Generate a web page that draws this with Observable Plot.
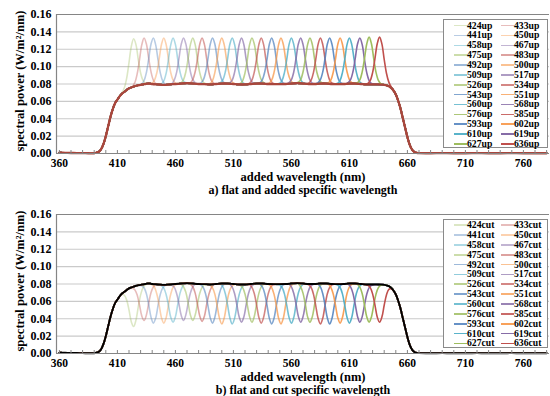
<!DOCTYPE html>
<html><head><meta charset="utf-8">
<script src="https://cdn.jsdelivr.net/npm/d3@7"></script>
<script src="https://cdn.jsdelivr.net/npm/@observablehq/plot@0.6"></script>
<style>
body{margin:0;background:#fff;}
#root{position:relative;width:550px;height:396px;overflow:hidden;font-family:"Liberation Serif","Times New Roman",serif;font-weight:bold;}
.panel{position:absolute;left:0;width:550px;height:198px;}
.legend{position:absolute;left:442.5px;top:19px;width:105px;height:129px;box-sizing:border-box;border:1px solid #8a8a8a;background:#fff;}
.it{position:absolute;height:10px;width:48px;}
.ln{position:absolute;left:0;top:4.2px;width:13px;height:1.7px;}
.tx{position:absolute;left:13.5px;top:0;font-size:9.7px;line-height:10px;white-space:nowrap;color:#000;}
</style>
</head><body>
<div id="root"></div>
<script>
// ---- data ----
const waves = [424,433,441,450,458,467,475,483,492,500,509,517,526,534,543,551,560,568,576,585,593,602,610,619,627,636];
// panel a: peak value of each "up" curve
const peakA = [0.132,0.133,0.133,0.133,0.133,0.133,0.133,0.133,0.133,0.133,0.133,0.133,0.133,0.133,0.133,0.133,0.133,0.133,0.133,0.133,0.133,0.133,0.133,0.133,0.134,0.134];
// panel b: minimum value of each "cut" curve
const dipB = [0.031,0.038,0.035,0.035,0.036,0.038,0.038,0.037,0.035,0.034,0.034,0.036,0.036,0.035,0.034,0.034,0.035,0.036,0.036,0.034,0.034,0.035,0.035,0.036,0.036,0.036];
// flat spectrum (wavelength nm, W/m²/nm)
const flatX = [
  360,365,370,375,380,385,390,
  392,394,396,398,400,402,404,406,408,410,412,414,416,418,420,422,424,426,428,430,432,434,436,438,440,
  445,450,455,460,465,470,475,480,485,490,495,500,505,510,515,520,525,530,535,540,545,550,555,560,565,570,575,580,585,590,595,600,605,610,615,620,625,630,635,
  638,640,642,644,646,648,650,652,654,656,658,660,662,664,666,668,670,
  680,690,700,710,720,730,740,750,760,770,780];
const flatY = [
  0.0010,0.0008,0.0006,0.0005,0.0004,0.0003,0.0003,
  0.0010,0.0020,0.0050,0.0110,0.0200,0.0310,0.0420,0.0510,0.0580,0.0620,0.0660,0.0690,0.0710,0.0730,0.0750,0.0760,0.0770,0.0780,0.0785,0.0790,0.0795,0.0800,0.0805,0.0805,0.0800,
  0.0795,0.0790,0.0795,0.0800,0.0805,0.0810,0.0805,0.0800,0.0798,0.0795,0.0800,0.0805,0.0805,0.0800,0.0795,0.0795,0.0800,0.0805,0.0805,0.0800,0.0798,0.0798,0.0800,0.0805,0.0810,0.0805,0.0800,0.0800,0.0805,0.0805,0.0800,0.0798,0.0800,0.0805,0.0805,0.0800,0.0795,0.0795,0.0795,
  0.0793,0.0790,0.0785,0.0775,0.0755,0.0725,0.0680,0.0610,0.0520,0.0410,0.0300,0.0190,0.0100,0.0045,0.0018,0.0007,0.0004,
  0.0003,0.0004,0.0003,0.0003,0.0004,0.0003,0.0003,0.0004,0.0003,0.0003,0.0003];
// shape of one added / cut band (offset nm, fraction of full height)
const bandOffset = [-12,-10,-8,-6,-4,-2,0,2,4,6,8,10,12];
const bandFrac   = [0.004,0.02,0.085,0.25,0.54,0.86,1,0.86,0.54,0.25,0.085,0.02,0.004];
const xTicks = [360,410,460,510,560,610,660,710,760];
const xMinor = [360,370,380,390,400,410,420,430,440,450,460,470,480,490,500,510,520,530,540,550,560,570,580,590,600,610,620,630,640,650,660,670,680,690,700,710,720,730,740,750,760,770,780];
const yTicks = [0,0.02,0.04,0.06,0.08,0.10,0.12,0.14,0.16];
const xDomain = [357.5,782.5];
const palette = ["#9bbb59","#c0504d","#4f81bd","#f79646","#4bacc6","#8064a2"];
const yTitle = "spectral power (W/m²/nm)";
const xTitle = "added wavelength (nm)";
const captions = ["a) flat and added specific wavelength","b) flat and cut specific wavelength"];

// ---- build ----
const flat = flatX.map((x,j)=>({x, y: flatY[j]}));
const baseAt = x => flatY[d3.leastIndex(flatX, v => Math.abs(v - x))];
const halfW = bandOffset[bandOffset.length-1];
function series(extremes){
  return waves.map((c,i)=>{
    const bc = baseAt(c);
    const pts = flat.filter(p => p.x < c-halfW || p.x > c+halfW);
    bandOffset.forEach((o,k)=>{ const x = c+o; pts.push({x, y: baseAt(x) + (extremes[i]-bc)*bandFrac[k]}); });
    pts.sort((a,b)=>a.x-b.x);
    return pts;
  });
}
const opac = i => 0.35 + 0.65*i/(waves.length-1);

function panel(extremes, baseColor, baseWidth, caption){
  const ser = series(extremes);
  const lines = ser.map((pts,i)=>Plot.line(pts,{x:"x",y:"y",stroke:palette[i%6],strokeOpacity:opac(i),strokeWidth:1.6,curve:"catmull-rom"}));
  return Plot.plot({
    width:550, height:198, marginTop:14, marginBottom:45, marginLeft:56, marginRight:1,
    x:{domain:xDomain}, y:{domain:[0,0.16]},
    style:{fontFamily:"'Liberation Serif','Times New Roman',serif", fontWeight:"bold", fontSize:"12px", background:"transparent", color:"#000"},
    marks:[
      Plot.gridY(yTicks,{stroke:"#cacaca",strokeOpacity:1,strokeWidth:1.2}),
      ...lines,
      Plot.line(flat,{x:"x",y:"y",stroke:baseColor,strokeWidth:baseWidth,curve:"catmull-rom"}),
      Plot.ruleY([yTicks[yTicks.length-1]],{stroke:"#858585",strokeWidth:1.2}),
      Plot.ruleY([0],{stroke:"#858585",strokeWidth:1.2}),
      Plot.ruleX([xDomain[0]],{stroke:"#858585",strokeWidth:1.2}),
      Plot.axisX(xMinor,{tickSize:-3,tickFormat:()=>"",label:null,stroke:"#858585"}),
      Plot.axisX(xTicks,{tickSize:0,tickPadding:5.5,fontSize:11.5,fontWeight:"bold",label:null}),
      Plot.axisY(yTicks,{tickSize:0,tickPadding:5,fontSize:12,fontWeight:"bold",tickFormat:d3.format(".2f"),label:null}),
      Plot.text([xTitle],{frameAnchor:"bottom",lineAnchor:"middle",dy:23,fontSize:12.5,fontWeight:"bold"}),
      Plot.text([caption],{frameAnchor:"bottom",lineAnchor:"middle",dy:36.5,fontSize:12,fontWeight:"bold"}),
      Plot.text([yTitle],{frameAnchor:"left",textAnchor:"middle",lineAnchor:"middle",rotate:-90,dx:-37,dy:-3,fontSize:12.5,fontWeight:"bold"})
    ]
  });
}

function legend(suffix){
  const box = document.createElement("div");
  box.className = "legend";
  waves.forEach((w,i)=>{
    const col = i%2, row = Math.floor(i/2);
    const it = document.createElement("div");
    it.className = "it";
    it.style.left = (col ? 57 : 10) + "px";
    it.style.top = (0.6 + row*9.86) + "px";
    const ln = document.createElement("div");
    ln.className = "ln";
    ln.style.background = palette[i%6];
    ln.style.opacity = opac(i);
    const tx = document.createElement("div");
    tx.className = "tx";
    tx.textContent = w + suffix;
    it.appendChild(ln); it.appendChild(tx);
    box.appendChild(it);
  });
  return box;
}

const root = document.getElementById("root");
[[peakA,"#a9463c",2.3,captions[0],"up",0],[dipB,"#000000",1.9,captions[1],"cut",199.5]].forEach(([ext,col,w,cap,suf,top])=>{
  const p = document.createElement("div");
  p.className = "panel";
  p.style.top = top + "px";
  p.appendChild(panel(ext,col,w,cap));
  p.appendChild(legend(suf));
  root.appendChild(p);
});
</script>
</body></html>
